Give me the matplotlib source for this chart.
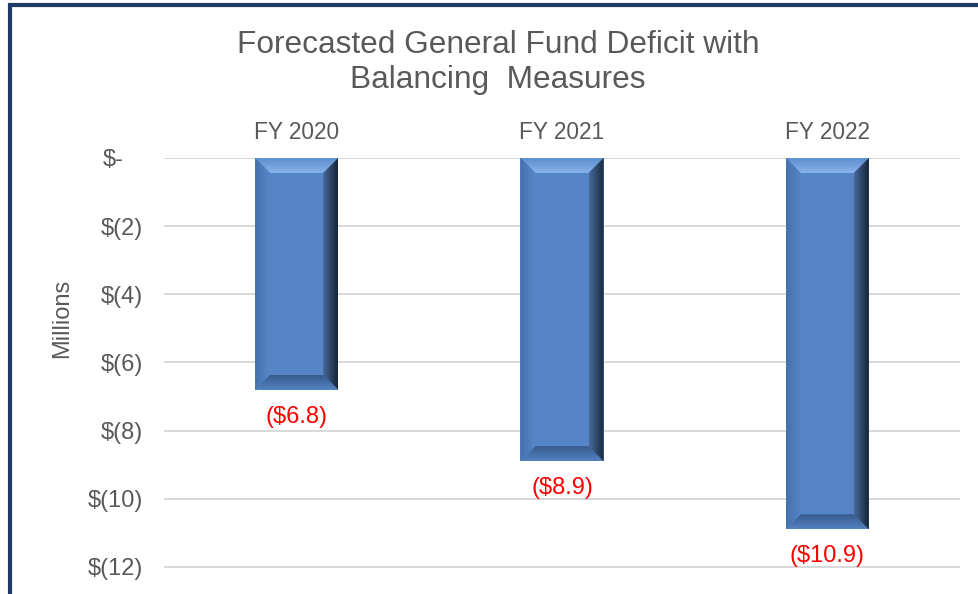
import numpy as np
import matplotlib
matplotlib.use("Agg")
import matplotlib.pyplot as plt
from matplotlib.patches import Polygon
from matplotlib.lines import Line2D
from matplotlib.colors import to_rgb
from matplotlib.transforms import ScaledTranslation

# data (millions)
years = ["FY 2020", "FY 2021", "FY 2022"]
deficit = [-6.8, -8.9, -10.9]
y_ticks = [0, -2, -4, -6, -8, -10, -12]
y_labels = ["$-", "$(2)", "$(4)", "$(6)", "$(8)", "$(10)", "$(12)"]

TEXT = "#595959"
BAR = "#5585C6"
NAVY = "#1F3A63"

plt.rcParams["font.family"] = ["Liberation Sans", "DejaVu Sans"]

W, H = 979, 594
fig = plt.figure(figsize=(W / 100, H / 100), dpi=100)
fig.patch.set_facecolor("white")

ax_l, ax_r, ax_t = 164, 960, 158
ax = fig.add_axes([ax_l / W, 0, (ax_r - ax_l) / W, 1 - ax_t / H])

x = np.arange(len(years))
bar_w = 0.313
xlim = (-0.5, len(years) - 0.5)
ylim = (-12.8, 0)

bars = ax.bar(x, deficit, width=bar_w, color=BAR, zorder=2, linewidth=0)

# bevel size: 15 px in data units
ax_wpx = ax_r - ax_l
ax_hpx = H - ax_t
bx = 15 * (xlim[1] - xlim[0]) / ax_wpx
by = 15 * (ylim[1] - ylim[0]) / ax_hpx


def shade(verts, extent, c0, c1, horizontal):
    # gradient from c0 (low side) to c1 (high side), clipped to the bevel polygon
    t = np.linspace(0, 1, 64)[:, None]
    a, b = np.array(to_rgb(c0)), np.array(to_rgb(c1))
    cols = a + (b - a) * t
    img = cols[None, :, :] if horizontal else cols[:, None, :]
    im = ax.imshow(img, extent=extent, origin="lower", aspect="auto",
                   interpolation="bilinear", zorder=3)
    poly = Polygon(verts, closed=True, transform=ax.transData,
                   facecolor="none", edgecolor="none")
    im.set_clip_path(poly)


for rect in bars:
    xl = rect.get_x()
    xr = xl + rect.get_width()
    yt = max(rect.get_y(), rect.get_y() + rect.get_height())
    yb = min(rect.get_y(), rect.get_y() + rect.get_height())
    # top
    shade([(xl, yt), (xr, yt), (xr - bx, yt - by), (xl + bx, yt - by)],
          (xl, xr, yt - by, yt), "#88B2EA", "#5E8ECF", False)
    # bottom
    shade([(xl, yb), (xr, yb), (xr - bx, yb + by), (xl + bx, yb + by)],
          (xl, xr, yb, yb + by), "#5383C2", "#365B8D", False)
    # left
    shade([(xl, yt), (xl + bx, yt - by), (xl + bx, yb + by), (xl, yb)],
          (xl, xl + bx, yb, yt), "#4472AE", "#5686C7", True)
    # right
    shade([(xr, yt), (xr - bx, yt - by), (xr - bx, yb + by), (xr, yb)],
          (xr - bx, xr, yb, yt), "#46699B", "#162536", True)

for xi, v in zip(x, deficit):
    ax.annotate(f"(${abs(v):.1f})", xy=(xi, v), xytext=(0, -27),
                textcoords="offset pixels", ha="center", va="center",
                color="#FF0000", fontsize=17)

ax.set_xlim(*xlim)
ax.set_ylim(*ylim)

ax.set_yticks(y_ticks)
ax.set_yticklabels(y_labels)
ax.set_xticks(x)
ax.set_xticklabels(years)
ax.xaxis.tick_top()
ax.tick_params(axis="x", length=0, pad=10, labelsize=16.3, labelcolor=TEXT)
ax.tick_params(axis="y", length=0, pad=15, labelsize=17, labelcolor=TEXT)
ax.yaxis.grid(True, color="#D6D6D6", linewidth=1.3, zorder=0)
ax.set_axisbelow(True)
for s in ax.spines.values():
    s.set_visible(False)

# the zero label sits a bit further left
zero_lbl = ax.get_yticklabels()[0]
zero_lbl.set_transform(zero_lbl.get_transform() +
                       ScaledTranslation(-20 / 100, 0, fig.dpi_scale_trans))

fig.text(62 / W, 1 - 318 / H, "Millions", rotation=90, ha="center",
         va="center", fontsize=17, color=TEXT)

fig.text(498 / W, 1 - 53 / H, "Forecasted General Fund Deficit with",
         ha="center", va="baseline", fontsize=22.8, color=TEXT)
fig.text(498 / W, 1 - 88 / H, "Balancing  Measures",
         ha="center", va="baseline", fontsize=22.8, color=TEXT)

# frame along the left and top edges
fig.add_artist(Line2D([9.5 / W, 9.5 / W, 1.01], [-0.01, 1 - 4.5 / H, 1 - 4.5 / H],
                      color=NAVY, linewidth=3.0, solid_joinstyle="miter",
                      transform=fig.transFigure))

fig.savefig("out.png", dpi=100)
